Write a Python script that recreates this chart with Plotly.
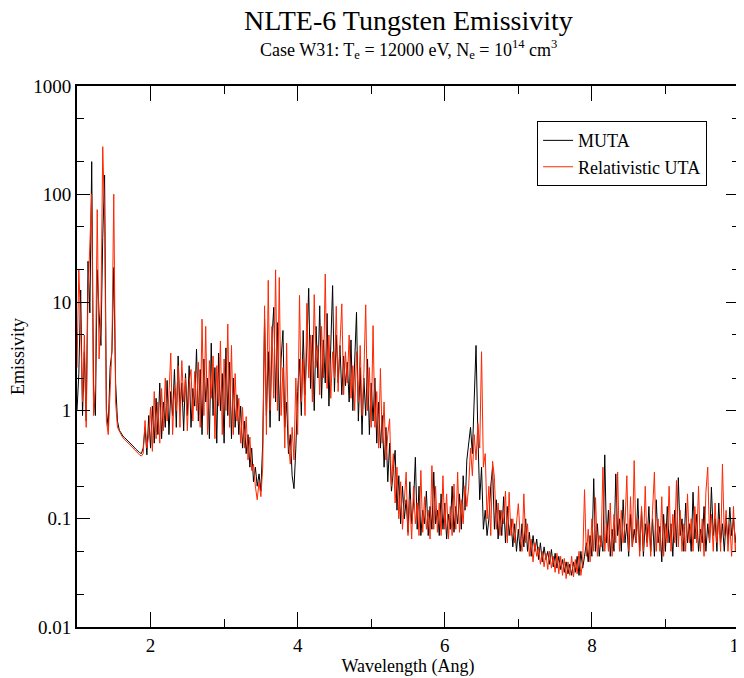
import numpy as np
import plotly.graph_objects as go

STEP = 0.025  # wavelength sampling (Ang)

# ---- Region A: 1.000 - 1.600 Ang (sharp high lines)
a_start = 1.000
a_muta = [1.0, 2.2, 13, 0.9, 3.5, 0.8, 24, 8, 200, 1.5, 0.9, 20, 8, 4, 40, 150, 1.0, 0.7, 2.5, 3.5,
          21, 1.8, 0.8, 0.66, 0.62]
a_ruta = [2.5, 20, 6, 1.2, 5, 0.7, 12, 30, 100, 0.9, 1.8, 72, 3, 7.5, 275, 60, 0.8, 0.6, 1.5, 3.8,
          100, 1.2, 0.7, 0.64, 0.6]

# ---- Region B: 1.625 - 1.875 Ang (smooth continuum)
b_start = 1.625
b_muta = [0.58, 0.56, 0.54, 0.52, 0.50, 0.48, 0.46, 0.44, 0.42, 0.41, 0.40]
b_ruta = [0.56, 0.54, 0.52, 0.50, 0.48, 0.46, 0.44, 0.42, 0.41, 0.39, 0.38]

# ---- Region C: 1.900 - 3.500 Ang
c_start = 1.900
c_muta = [0.45, 0.7, 0.39, 0.9, 0.45, 1.1, 0.5, 1.3, 0.6, 1.8,
          0.55, 1.2, 0.7, 1.9, 0.6, 1.5, 0.9, 2.4, 0.7, 3.2,
          1.0, 1.8, 0.65, 2.2, 0.9, 2.6, 0.7, 1.6, 1.1, 3.7,
          0.8, 2.4, 0.6, 3.0, 1.2, 2.0, 0.55, 4.2, 0.9, 2.5,
          0.5, 3.4, 1.0, 2.2, 0.5, 3.8, 0.9, 2.8, 0.55, 2.0,
          0.7, 1.4, 0.6, 1.1, 0.45, 0.8, 0.4, 0.6, 0.3, 0.45,
          0.22, 0.3, 0.2, 0.26, 0.18]
c_ruta = [0.4, 0.81, 0.45, 0.6, 1.07, 0.42, 1.5, 0.55, 1.2, 0.5,
          1.6, 0.65, 2.0, 0.8, 1.4, 3.4, 0.6, 1.7, 1.0, 2.6,
          0.7, 2.9, 1.2, 2.0, 0.65, 1.8, 2.4, 0.8, 2.3, 1.0,
          2.8, 0.7, 7.0, 0.9, 6.0, 0.6, 2.9, 1.3, 3.2, 0.55,
          2.6, 1.1, 4.4, 0.6, 3.0, 1.0, 6.3, 0.7, 4.0, 0.6,
          2.2, 0.8, 1.3, 0.5, 1.07, 0.45, 0.88, 0.35, 0.57, 0.28,
          0.32, 0.2, 0.15, 0.22, 0.16]

# ---- Region D: 3.525 - 4.000 Ang
d_start = 3.525
d_muta = [0.5, 7.0, 0.9, 3.5, 0.7, 4.5, 9.0, 1.2, 6.5, 0.8,
          3.0, 5.5, 0.7, 1.2, 0.4, 0.6, 0.25, 0.19, 0.45, 1.5]
d_ruta = [0.3, 9.3, 0.6, 16, 1.0, 6.0, 1.3, 20, 1.0, 17,
          0.9, 2.5, 0.45, 4.2, 0.5, 0.32, 0.7, 0.35, 2.0, 0.6]

# ---- Region E: 4.025 - 5.000 Ang
e_start = 4.025
e_muta = [3.0, 0.9, 5.5, 1.4, 4.0, 13.5, 1.6, 5.0, 1.0, 6.0,
          2.0, 9.3, 1.3, 4.5, 1.8, 7.9, 1.1, 3.5, 14.3, 1.5,
          5.0, 1.8, 4.0, 1.4, 3.2, 1.7, 2.8, 1.2, 4.5, 1.0,
          3.0, 8.1, 0.8, 2.5, 0.6, 2.0, 0.9, 3.0, 0.6, 1.8]
e_ruta = [11.6, 1.2, 3.0, 0.9, 9.8, 2.0, 5.0, 1.2, 11.8, 2.5,
          4.0, 1.4, 6.0, 2.0, 18.3, 1.6, 5.0, 1.3, 3.5, 2.0,
          9.2, 1.5, 4.0, 9.7, 1.4, 3.5, 1.8, 5.0, 1.3, 2.6,
          1.0, 3.5, 1.2, 4.0, 0.9, 2.2, 9.5, 1.0, 2.5, 0.7]

# ---- Region F: 5.025 - 6.300 Ang
f_start = 5.025
f_muta = [0.8, 2.0, 0.5, 1.2, 0.45, 0.9, 0.3, 0.7, 0.22, 0.5,
          0.18, 0.3, 0.43, 0.12, 0.25, 0.09, 0.2, 0.1, 0.15, 0.075,
          0.22, 0.09, 0.14, 0.37, 0.08, 0.2, 0.07, 0.12, 0.09, 0.18,
          0.07, 0.13, 0.08, 0.27, 0.09, 0.12, 0.07, 0.17, 0.08, 0.14,
          0.065, 0.11, 0.08, 0.2, 0.075, 0.13, 0.09, 0.17, 0.08, 0.25,
          0.12, 0.35]
f_ruta = [6.1, 0.7, 1.5, 0.45, 2.45, 0.5, 1.2, 0.35, 0.6, 0.84,
          0.2, 0.4, 0.14, 0.3, 0.1, 0.22, 0.08, 0.16, 0.27, 0.07,
          0.15, 0.065, 0.2, 0.09, 0.14, 0.07, 0.28, 0.075, 0.16, 0.08,
          0.12, 0.065, 0.31, 0.08, 0.2, 0.075, 0.14, 0.07, 0.25, 0.08,
          0.17, 0.065, 0.13, 0.07, 0.21, 0.08, 0.27, 0.075, 0.15, 0.09,
          0.2, 0.13]

# ---- Region G: 6.325 - 7.000 Ang
g_start = 6.325
g_muta = [0.5, 0.7, 0.4, 1.64, 4.0, 0.6, 0.15, 0.3, 0.08, 0.12,
          0.07, 0.1, 0.2, 0.3, 0.08, 0.15, 0.065, 0.12, 0.07, 0.16,
          0.06, 0.13, 0.07, 0.1, 0.055, 0.09, 0.05, 0.08]
g_ruta = [0.2, 0.45, 0.25, 0.6, 0.35, 0.76, 0.45, 3.5, 0.3, 0.4,
          0.1, 0.2, 0.07, 0.34, 0.24, 0.08, 0.14, 0.07, 0.12, 0.09,
          0.18, 0.06, 0.176, 0.07, 0.1, 0.06, 0.09, 0.138]

# ---- Region H: 7.025 - 7.875 Ang
h_start = 7.025
h_muta = [0.05, 0.09, 0.055, 0.1, 0.05, 0.075, 0.045, 0.07, 0.05, 0.065,
          0.042, 0.06, 0.04, 0.055, 0.042, 0.05, 0.038, 0.052, 0.036, 0.048,
          0.035, 0.045, 0.034, 0.042, 0.032, 0.04, 0.031, 0.038, 0.03, 0.04,
          0.032, 0.045, 0.03, 0.05, 0.035]
h_ruta = [0.07, 0.05, 0.17, 0.06, 0.09, 0.045, 0.065, 0.04, 0.06, 0.045,
          0.055, 0.038, 0.05, 0.036, 0.048, 0.034, 0.05, 0.035, 0.045, 0.032,
          0.048, 0.031, 0.045, 0.03, 0.043, 0.028, 0.04, 0.03, 0.045, 0.029,
          0.042, 0.031, 0.05, 0.03, 0.04]

# ---- Region I: 7.900 - 10.000 Ang
i_start = 7.900
i_muta = [0.045, 0.06, 0.04, 0.07, 0.045, 0.235, 0.05, 0.09, 0.045, 0.07,
          0.05, 0.39, 0.06, 0.12, 0.045, 0.08, 0.05, 0.26, 0.07, 0.1,
          0.05, 0.15, 0.06, 0.09, 0.045, 0.11, 0.055, 0.08, 0.06, 0.154,
          0.05, 0.12, 0.045, 0.09, 0.06, 0.13, 0.05, 0.1, 0.045, 0.15,
          0.06, 0.085, 0.04, 0.11, 0.05, 0.13, 0.06, 0.09, 0.045, 0.12,
          0.055, 0.24, 0.07, 0.1, 0.05, 0.14, 0.06, 0.09, 0.05, 0.176,
          0.065, 0.11, 0.05, 0.08, 0.06, 0.13, 0.05, 0.09, 0.06, 0.196,
          0.07, 0.1, 0.05, 0.14, 0.06, 0.09, 0.05, 0.1, 0.06, 0.128,
          0.07, 0.1, 0.06, 0.09, 0.065]
i_ruta = [0.186, 0.045, 0.08, 0.04, 0.1, 0.05, 0.157, 0.045, 0.07, 0.055,
          0.30, 0.05, 0.09, 0.05, 0.14, 0.045, 0.11, 0.06, 0.27, 0.05,
          0.12, 0.06, 0.09, 0.25, 0.05, 0.16, 0.055, 0.345, 0.06, 0.1,
          0.045, 0.13, 0.05, 0.2, 0.055, 0.09, 0.045, 0.12, 0.27, 0.05,
          0.1, 0.05, 0.16, 0.045, 0.09, 0.06, 0.2, 0.05, 0.11, 0.06,
          0.226, 0.055, 0.12, 0.05, 0.09, 0.05, 0.17, 0.06, 0.1, 0.05,
          0.13, 0.06, 0.2, 0.05, 0.1, 0.045, 0.176, 0.30, 0.06, 0.11,
          0.05, 0.14, 0.06, 0.1, 0.05, 0.32, 0.07, 0.12, 0.05, 0.09,
          0.045, 0.13, 0.05, 0.08, 0.06]

regions = [
    (a_start, a_muta, a_ruta), (b_start, b_muta, b_ruta), (c_start, c_muta, c_ruta),
    (d_start, d_muta, d_ruta), (e_start, e_muta, e_ruta), (f_start, f_muta, f_ruta),
    (g_start, g_muta, g_ruta), (h_start, h_muta, h_ruta), (i_start, i_muta, i_ruta),
]

wl, muta, ruta = [], [], []
for start, m, r in regions:
    assert len(m) == len(r), (start, len(m), len(r))
    for k in range(len(m)):
        wl.append(round(start + STEP * k, 3))
    muta.extend(m)
    ruta.extend(r)

y_tickvals = [0.01, 0.1, 1, 10, 100, 1000]
y_ticktext = ["0.01", "0.1", "1", "10", "100", "1000"]
x_tickvals = [2, 4, 6, 8, 10]

FONT = "Liberation Serif, Times New Roman, serif"
RED = "rgb(255,38,0)"

fig = go.Figure()
fig.add_trace(go.Scatter(x=wl, y=muta, mode="lines", name="MUTA",
                         line=dict(color="black", width=1)))
fig.add_trace(go.Scatter(x=wl, y=ruta, mode="lines", name="Relativistic UTA",
                         line=dict(color=RED, width=1)))

# page body has an 8px default margin; compensate so the plot area sits at
# x 77..739, y 86..627 in the 744x678 window
fig.update_layout(
    width=744, height=678,
    margin=dict(l=69, r=13, t=78, b=59, autoexpand=False),
    paper_bgcolor="white", plot_bgcolor="white",
    font=dict(family=FONT, size=16, color="black"),
    showlegend=True,
    legend=dict(x=0.695, y=0.935, xanchor="left", yanchor="top",
                bgcolor="white", bordercolor="black", borderwidth=1,
                font=dict(family=FONT, size=18), tracegroupgap=0,
                itemwidth=30),
    annotations=[
        dict(text="NLTE-6 Tungsten Emissivity", xref="paper", yref="paper",
             x=0.5, y=1, yshift=66, xanchor="center", yanchor="middle",
             showarrow=False, font=dict(family=FONT, size=28)),
        dict(text="Case W31: T<sub>e</sub> = 12000 eV, N<sub>e</sub> = 10<sup>14</sup> cm<sup>3</sup>",
             xref="paper", yref="paper", x=0.5, y=1, yshift=37,
             xanchor="center", yanchor="middle", showarrow=False,
             font=dict(family=FONT, size=18)),
    ],
)

fig.update_xaxes(
    range=[1, 10], tickvals=x_tickvals, ticks="inside", ticklen=15, tickwidth=1,
    tickcolor="black", showline=True, linecolor="black", linewidth=2, mirror="allticks",
    showgrid=False, zeroline=False, automargin=False,
    minor=dict(dtick=1, tick0=0, ticks="inside", ticklen=8, tickcolor="black", showgrid=False),
    title=dict(text="Wavelength (Ang)", font=dict(family=FONT, size=18), standoff=2),
    tickfont=dict(family=FONT, size=19),
)
fig.update_yaxes(
    type="log", range=[-2, 3], tickvals=y_tickvals, ticktext=y_ticktext,
    ticks="inside", ticklen=13, tickwidth=1, tickcolor="black",
    showline=True, linecolor="black", linewidth=2, mirror="allticks",
    showgrid=False, zeroline=False, automargin=False,
    minor=dict(ticks="inside", ticklen=7, tickcolor="black", showgrid=False),
    title=dict(text="Emissivity", font=dict(family=FONT, size=18), standoff=10),
    tickfont=dict(family=FONT, size=19),
)

fig.write_html("out.html")
